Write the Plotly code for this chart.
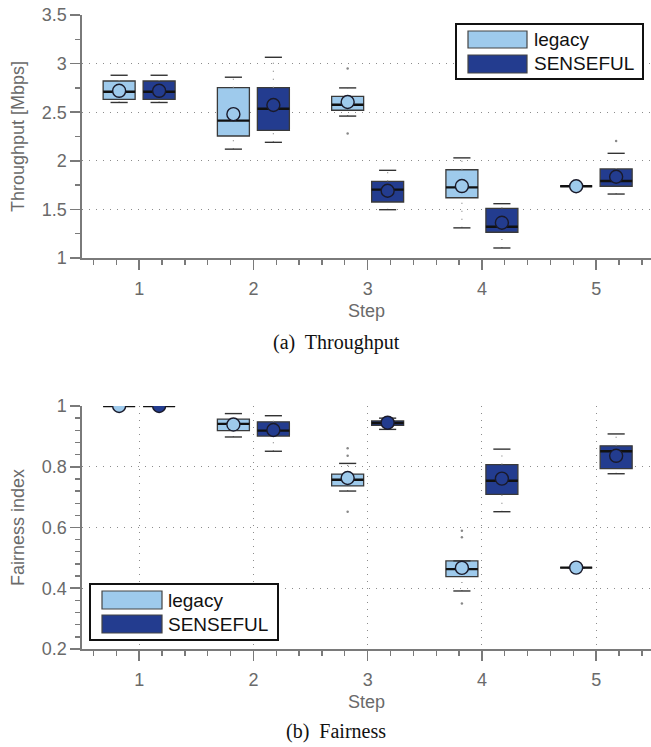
import plotly.graph_objects as go

W, H = 651, 747
MT, MB = 0, 0

steps = [1, 2, 3, 4, 5]
series_names = ["legacy", "SENSEFUL"]
series_colors = ["#9ECAEC", "#233C8F"]
x_ticks = [1, 2, 3, 4, 5]

# ---------- (a) Throughput [Mbps] ----------
thr_legacy_lo = [2.60, 2.12, 2.46, 1.31, 1.738]
thr_legacy_q1 = [2.632, 2.255, 2.52, 1.62, 1.738]
thr_legacy_med = [2.711, 2.413, 2.577, 1.727, 1.738]
thr_legacy_q3 = [2.821, 2.752, 2.663, 1.908, 1.738]
thr_legacy_hi = [2.88, 2.86, 2.75, 2.03, 1.738]
thr_legacy_mean = [2.72, 2.48, 2.605, 1.74, 1.738]
thr_legacy_out_x = [3, 3]
thr_legacy_out_y = [2.95, 2.28]

thr_senseful_lo = [2.60, 2.19, 1.497, 1.103, 1.658]
thr_senseful_q1 = [2.632, 2.314, 1.576, 1.265, 1.738]
thr_senseful_med = [2.711, 2.536, 1.703, 1.322, 1.792]
thr_senseful_q3 = [2.821, 2.752, 1.789, 1.511, 1.916]
thr_senseful_hi = [2.88, 3.065, 1.902, 1.559, 2.077]
thr_senseful_mean = [2.72, 2.574, 1.692, 1.363, 1.836]
thr_senseful_out_x = [5]
thr_senseful_out_y = [2.204]

# ---------- (b) Fairness index ----------
fair_legacy_lo = [1.0, 0.898, 0.72, 0.391, 0.468]
fair_legacy_q1 = [1.0, 0.919, 0.737, 0.438, 0.468]
fair_legacy_med = [1.0, 0.941, 0.757, 0.463, 0.468]
fair_legacy_q3 = [1.0, 0.957, 0.776, 0.490, 0.468]
fair_legacy_hi = [1.0, 0.975, 0.811, 0.490, 0.468]
fair_legacy_mean = [1.0, 0.939, 0.763, 0.467, 0.468]
fair_legacy_out_x = [3, 3, 3, 4, 4, 4]
fair_legacy_out_y = [0.861, 0.836, 0.652, 0.589, 0.568, 0.35]

fair_senseful_lo = [1.0, 0.851, 0.923, 0.652, 0.777]
fair_senseful_q1 = [1.0, 0.901, 0.936, 0.709, 0.794]
fair_senseful_med = [1.0, 0.919, 0.944, 0.754, 0.851]
fair_senseful_q3 = [1.0, 0.948, 0.951, 0.807, 0.869]
fair_senseful_hi = [1.0, 0.968, 0.960, 0.858, 0.908]
fair_senseful_mean = [1.0, 0.921, 0.945, 0.761, 0.836]
fair_senseful_out_x = []
fair_senseful_out_y = []

OFFSETS = [-0.175, 0.175]
BOX_W = 0.28
CAP_HALF = 0.075

fig = go.Figure()


def add_group(xaxis, yaxis, k, lo, q1, med, q3, hi, mean, out_x, out_y):
    color = series_colors[k]
    off = OFFSETS[k]
    xs = [s + off for s in steps]
    # boxes
    fig.add_trace(go.Bar(
        x=xs, y=[b - a for a, b in zip(q1, q3)], base=q1, width=BOX_W,
        marker=dict(color=color, line=dict(color="#3a3a3a", width=1.3)),
        xaxis=xaxis, yaxis=yaxis, showlegend=False, hoverinfo="skip"))
    # whiskers (dotted)
    wx, wy = [], []
    for x, a, b, c, d in zip(xs, lo, q1, q3, hi):
        if b > a:
            wx += [x, x, None]; wy += [a, b, None]
        if d > c:
            wx += [x, x, None]; wy += [c, d, None]
    fig.add_trace(go.Scatter(x=wx, y=wy, mode="lines",
                             line=dict(color="#8a8a8a", width=1.2, dash="1px,7px"),
                             xaxis=xaxis, yaxis=yaxis, showlegend=False, hoverinfo="skip"))
    # caps
    cx, cy = [], []
    for x, a, d in zip(xs, lo, hi):
        for v in (a, d):
            cx += [x - CAP_HALF, x + CAP_HALF, None]; cy += [v, v, None]
    fig.add_trace(go.Scatter(x=cx, y=cy, mode="lines",
                             line=dict(color="#333333", width=1.4),
                             xaxis=xaxis, yaxis=yaxis, showlegend=False, hoverinfo="skip"))
    # medians
    mx, my = [], []
    for x, m in zip(xs, med):
        mx += [x - BOX_W / 2, x + BOX_W / 2, None]; my += [m, m, None]
    fig.add_trace(go.Scatter(x=mx, y=my, mode="lines",
                             line=dict(color="#111111", width=2.4),
                             xaxis=xaxis, yaxis=yaxis, showlegend=False, hoverinfo="skip"))
    # outliers
    if out_x:
        fig.add_trace(go.Scatter(x=[s + off for s in out_x], y=out_y, mode="markers",
                                 marker=dict(color="#888888", size=2.5),
                                 xaxis=xaxis, yaxis=yaxis, showlegend=False, hoverinfo="skip"))
    # means
    fig.add_trace(go.Scatter(x=xs, y=mean, mode="markers",
                             marker=dict(symbol="circle", size=13, color=color,
                                         line=dict(color="#1a1a2a", width=1.4)),
                             xaxis=xaxis, yaxis=yaxis, showlegend=False, hoverinfo="skip"))


add_group("x", "y", 0, thr_legacy_lo, thr_legacy_q1, thr_legacy_med, thr_legacy_q3,
          thr_legacy_hi, thr_legacy_mean, thr_legacy_out_x, thr_legacy_out_y)
add_group("x", "y", 1, thr_senseful_lo, thr_senseful_q1, thr_senseful_med, thr_senseful_q3,
          thr_senseful_hi, thr_senseful_mean, thr_senseful_out_x, thr_senseful_out_y)
add_group("x2", "y2", 0, fair_legacy_lo, fair_legacy_q1, fair_legacy_med, fair_legacy_q3,
          fair_legacy_hi, fair_legacy_mean, fair_legacy_out_x, fair_legacy_out_y)
add_group("x2", "y2", 1, fair_senseful_lo, fair_senseful_q1, fair_senseful_med, fair_senseful_q3,
          fair_senseful_hi, fair_senseful_mean, fair_senseful_out_x, fair_senseful_out_y)


def px(x):
    return x / W


def py(y):
    return 1 - (y - MT) / (H - MT - MB)


AX = "#7a7a7a"
FONT = "Liberation Sans, Arial, sans-serif"
GRID = dict(gridcolor="#8c8c8c", gridwidth=1, griddash="1px,6px")

xbase = dict(range=[0.5, 5.48], tickmode="array", tickvals=x_ticks,
             ticktext=[str(v) for v in x_ticks],
             showline=True, linecolor=AX, linewidth=1.6, ticks="outside",
             ticklen=10, tickwidth=1.6, tickcolor=AX, zeroline=False,
             ticklabelstandoff=4, ticklabeloverflow="allow",
             minor=dict(dtick=0.2, tick0=1, ticks="outside", ticklen=5,
                        tickwidth=1.4, tickcolor=AX, showgrid=False),
             tickfont=dict(family=FONT, size=18, color="#6a6a6a"),
             automargin=False, fixedrange=True,
             title=dict(text="Step", font=dict(family=FONT, size=18, color="#6a6a6a"),
                        standoff=6))

ybase = dict(showline=True, linecolor=AX, linewidth=1.6, ticks="outside",
             ticklen=10, tickwidth=1.6, tickcolor=AX, zeroline=False,
             ticklabeloverflow="allow",
             tickfont=dict(family=FONT, size=18, color="#6a6a6a"),
             automargin=False, fixedrange=True, showgrid=True, **GRID)

xdom = [px(82), 1.0]

fig.update_layout(
    width=W, height=H,
    margin=dict(l=0, r=0, t=MT, b=MB),
    paper_bgcolor="white", plot_bgcolor="white",
    barmode="overlay", showlegend=False,
    xaxis=dict(domain=xdom, anchor="y", showgrid=False, **xbase),
    yaxis=dict(domain=[py(258), py(15)], anchor="x", range=[1, 3.5], dtick=0.5, tick0=1,
               minor=dict(dtick=0.25, tick0=1, ticks="outside", ticklen=5,
                          tickwidth=1.4, tickcolor=AX, showgrid=False),
               title=dict(text="Throughput [Mbps]",
                          font=dict(family=FONT, size=18, color="#6a6a6a"), standoff=12),
               **ybase),
    xaxis2=dict(domain=xdom, anchor="y2", showgrid=True, **GRID, **xbase),
    yaxis2=dict(domain=[py(649), py(406)], anchor="x2", range=[0.2, 1.0], dtick=0.2, tick0=0.2,
                minor=dict(dtick=0.04, tick0=0.2, ticks="outside", ticklen=5,
                           tickwidth=1.4, tickcolor=AX, showgrid=False),
                title=dict(text="Fairness index",
                           font=dict(family=FONT, size=18, color="#6a6a6a"), standoff=12),
                **ybase),
)

shapes = []
annotations = []


def legend(box, patch_x, patch_ys, text_x):
    x0, y0, x1, y1 = box
    shapes.append(dict(type="rect", xref="paper", yref="paper",
                       x0=px(x0), x1=px(x1), y0=py(y1), y1=py(y0),
                       line=dict(color="#111111", width=2), fillcolor="white", layer="above"))
    for name, color, (ya, yb) in zip(series_names, series_colors, patch_ys):
        shapes.append(dict(type="rect", xref="paper", yref="paper",
                           x0=px(patch_x[0]), x1=px(patch_x[1]), y0=py(yb), y1=py(ya),
                           line=dict(color="#444444", width=1.2), fillcolor=color, layer="above"))
        annotations.append(dict(xref="paper", yref="paper", x=px(text_x), y=py((ya + yb) / 2),
                                text=name, showarrow=False, xanchor="left", yanchor="middle",
                                font=dict(family=FONT, size=19, color="#111111")))


legend((456, 24, 643, 79), (468, 527), [(31, 48), (55, 73)], 532)
legend((90, 584, 278, 640), (102, 162), [(591, 609), (615, 633)], 166)

annotations.append(dict(xref="paper", yref="paper", x=px(336), y=py(343),
                        text="(a)  Throughput", showarrow=False, xanchor="center", yanchor="middle",
                        font=dict(family="Liberation Serif, Times New Roman, serif", size=20,
                                  color="#111111")))
annotations.append(dict(xref="paper", yref="paper", x=px(336), y=py(731),
                        text="(b)  Fairness", showarrow=False, xanchor="center", yanchor="middle",
                        font=dict(family="Liberation Serif, Times New Roman, serif", size=20,
                                  color="#111111")))

fig.update_layout(shapes=shapes, annotations=annotations)

# remove the default 8px page margin so the figure fills the window exactly
fig.write_html("out.html",
               config={"displayModeBar": False, "staticPlot": True},
               post_script="document.body.style.margin='0';document.body.style.overflow='hidden';")
